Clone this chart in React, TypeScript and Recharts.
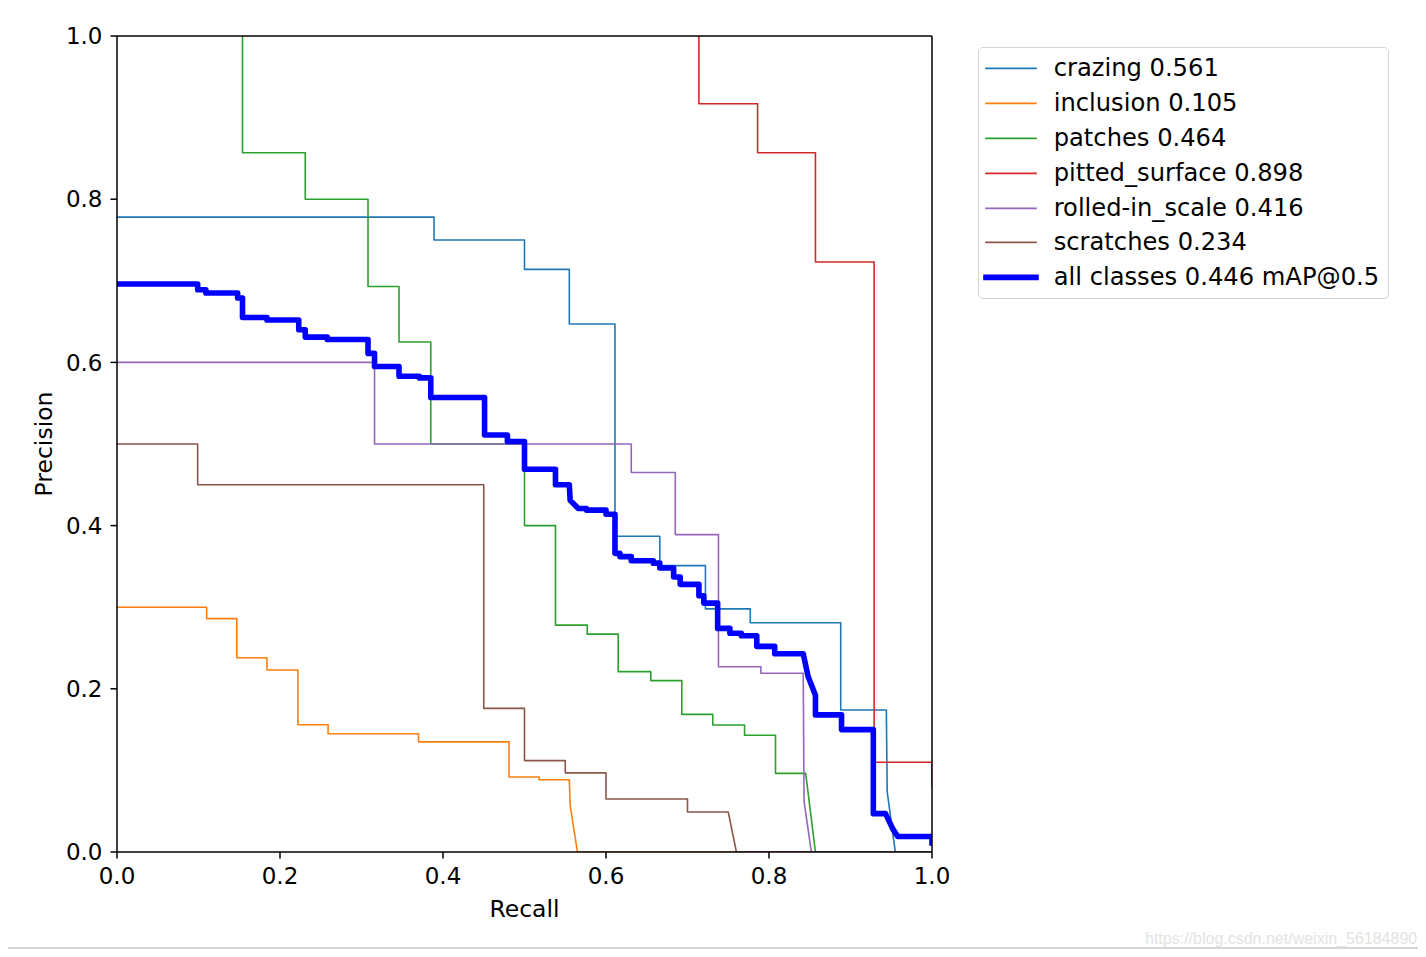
import React from 'react';
import { LineChart, Line, XAxis, YAxis, ReferenceLine, Legend } from 'recharts';

const FONT = '"DejaVu Sans", sans-serif';

// ---- data (recall / precision corner points of each PR step curve) ----
const crazingRecall = [0, 0.389, 0.389, 0.5, 0.5, 0.555, 0.555, 0.611, 0.611, 0.666, 0.666, 0.722, 0.722, 0.777, 0.777, 0.888, 0.888, 0.944, 0.945, 0.955, 1.0];
const crazingPrecision = [0.778, 0.778, 0.75, 0.75, 0.714, 0.714, 0.647, 0.647, 0.387, 0.387, 0.351, 0.351, 0.298, 0.298, 0.281, 0.281, 0.174, 0.174, 0.074, 0, 0];

const inclusionRecall = [0, 0.11, 0.11, 0.147, 0.147, 0.184, 0.184, 0.222, 0.222, 0.259, 0.259, 0.37, 0.37, 0.481, 0.481, 0.518, 0.518, 0.555, 0.556, 0.565, 1.0];
const inclusionPrecision = [0.3, 0.3, 0.286, 0.286, 0.238, 0.238, 0.223, 0.223, 0.156, 0.156, 0.145, 0.145, 0.135, 0.135, 0.092, 0.092, 0.0885, 0.0885, 0.057, 0, 0];

const patchesRecall = [0.154, 0.154, 0.231, 0.231, 0.308, 0.308, 0.346, 0.346, 0.385, 0.385, 0.5, 0.5, 0.538, 0.538, 0.577, 0.577, 0.615, 0.615, 0.655, 0.655, 0.693, 0.693, 0.731, 0.731, 0.77, 0.77, 0.808, 0.808, 0.845, 0.857, 1.0];
const patchesPrecision = [1.0, 0.857, 0.857, 0.8, 0.8, 0.693, 0.693, 0.625, 0.625, 0.5, 0.5, 0.4, 0.4, 0.278, 0.278, 0.267, 0.267, 0.221, 0.221, 0.21, 0.21, 0.1686, 0.1686, 0.1556, 0.1556, 0.143, 0.143, 0.0964, 0.0964, 0, 0];

const pittedRecall = [0.714, 0.714, 0.786, 0.786, 0.857, 0.857, 0.929, 0.929, 1.0, 1.0];
const pittedPrecision = [1.0, 0.917, 0.917, 0.857, 0.857, 0.723, 0.723, 0.11, 0.11, 0.08];

const rolledRecall = [0, 0.316, 0.316, 0.631, 0.631, 0.685, 0.685, 0.738, 0.738, 0.79, 0.79, 0.842, 0.843, 0.852, 1.0];
const rolledPrecision = [0.6, 0.6, 0.5, 0.5, 0.465, 0.465, 0.389, 0.389, 0.227, 0.227, 0.219, 0.219, 0.062, 0, 0];

const scratchesRecall = [0, 0.099, 0.099, 0.45, 0.45, 0.5, 0.5, 0.55, 0.55, 0.6, 0.6, 0.7, 0.7, 0.75, 0.76, 1.0];
const scratchesPrecision = [0.5, 0.5, 0.45, 0.45, 0.176, 0.176, 0.112, 0.112, 0.097, 0.097, 0.065, 0.065, 0.049, 0.049, 0, 0];

const allRecall = [0, 0.099, 0.099, 0.109, 0.109, 0.148, 0.148, 0.154, 0.154, 0.184, 0.184, 0.223, 0.223, 0.231, 0.231, 0.258, 0.258, 0.308, 0.308, 0.316, 0.316, 0.346, 0.346, 0.371, 0.371, 0.385, 0.385, 0.451, 0.451, 0.479, 0.479, 0.5, 0.5, 0.538, 0.538, 0.555, 0.556, 0.566, 0.576, 0.576, 0.6, 0.6, 0.611, 0.611, 0.617, 0.617, 0.631, 0.631, 0.658, 0.658, 0.666, 0.666, 0.683, 0.683, 0.691, 0.691, 0.714, 0.714, 0.72, 0.72, 0.737, 0.737, 0.752, 0.752, 0.766, 0.766, 0.785, 0.785, 0.807, 0.807, 0.842, 0.848, 0.857, 0.857, 0.889, 0.889, 0.928, 0.928, 0.943, 0.952, 0.958, 1.0, 1.0];
const allPrecision = [0.696, 0.696, 0.689, 0.689, 0.685, 0.685, 0.679, 0.679, 0.655, 0.655, 0.652, 0.652, 0.64, 0.64, 0.631, 0.631, 0.628, 0.628, 0.611, 0.611, 0.595, 0.595, 0.583, 0.583, 0.581, 0.581, 0.557, 0.557, 0.511, 0.511, 0.503, 0.503, 0.469, 0.469, 0.45, 0.45, 0.431, 0.421, 0.421, 0.419, 0.419, 0.414, 0.414, 0.366, 0.366, 0.362, 0.362, 0.357, 0.357, 0.354, 0.354, 0.348, 0.348, 0.337, 0.337, 0.328, 0.328, 0.314, 0.314, 0.305, 0.305, 0.274, 0.274, 0.268, 0.268, 0.265, 0.265, 0.252, 0.252, 0.243, 0.243, 0.215, 0.192, 0.168, 0.168, 0.15, 0.15, 0.047, 0.047, 0.028, 0.019, 0.019, 0.011];

const seriesNames = ['crazing 0.561', 'inclusion 0.105', 'patches 0.464', 'pitted_surface 0.898', 'rolled-in_scale 0.416', 'scratches 0.234', 'all classes 0.446 mAP@0.5'];
const xTicks = [0, 0.2, 0.4, 0.6, 0.8, 1.0];
const yTicks = [0, 0.2, 0.4, 0.6, 0.8, 1.0];

type Pt = { r: number; p: number };
const zip = (rs: number[], ps: number[]): Pt[] => rs.map((r, i) => ({ r, p: ps[i] }));

const THIN = 1.6;
const THICK = 5.6;

const SERIES = [
  { name: seriesNames[0], color: '#1f77b4', width: THIN, data: zip(crazingRecall, crazingPrecision) },
  { name: seriesNames[1], color: '#ff7f0e', width: THIN, data: zip(inclusionRecall, inclusionPrecision) },
  { name: seriesNames[2], color: '#2ca02c', width: THIN, data: zip(patchesRecall, patchesPrecision) },
  { name: seriesNames[3], color: '#d62728', width: THIN, data: zip(pittedRecall, pittedPrecision) },
  { name: seriesNames[4], color: '#9467bd', width: THIN, data: zip(rolledRecall, rolledPrecision) },
  { name: seriesNames[5], color: '#8c564b', width: THIN, data: zip(scratchesRecall, scratchesPrecision) },
  { name: seriesNames[6], color: '#0000ff', width: THICK, data: zip(allRecall, allPrecision) },
];

const ROW_H = 34.83;

const LegendBox = () => (
  <div
    style={{
      width: 411,
      height: 252,
      boxSizing: 'border-box',
      border: '1.3px solid #d4d4d4',
      borderRadius: 5,
      background: '#fff',
      paddingTop: 3,
      fontFamily: FONT,
      fontSize: 24.2,
      color: '#000',
    }}
  >
    {SERIES.map((s) => (
      <div key={s.name} style={{ height: ROW_H, position: 'relative' }}>
        <svg width={70} height={ROW_H} style={{ position: 'absolute', left: 0, top: 0 }}>
          <line x1={7} x2={57} y1={ROW_H / 2} y2={ROW_H / 2} stroke={s.color} strokeWidth={s.width} strokeLinecap="square" />
        </svg>
        <span style={{ position: 'absolute', left: 75, top: 0, height: ROW_H, lineHeight: `${ROW_H}px`, whiteSpace: 'nowrap' }}>
          {s.name}
        </span>
      </div>
    ))}
  </div>
);

const XTitle = (props: any) => {
  const vb = props.viewBox || { x: 0, y: 0, width: 0, height: 0 };
  return (
    <text x={vb.x + vb.width / 2} y={vb.y + 65} textAnchor="middle" fontFamily={FONT} fontSize={23.5} fill="#000">
      Recall
    </text>
  );
};

const YTitle = (props: any) => {
  const vb = props.viewBox || { x: 0, y: 0, width: 0, height: 0 };
  const cx = vb.x + 43.7;
  const cy = vb.y + vb.height / 2;
  return (
    <text x={cx} y={cy} transform={`rotate(-90, ${cx}, ${cy})`} textAnchor="middle" fontFamily={FONT} fontSize={23.5} fill="#000">
      Precision
    </text>
  );
};

export default function App() {
  const tickStyle = { fill: '#000', fontSize: 23, fontFamily: FONT };
  return (
    <div style={{ position: 'relative', width: 1410, height: 941 }}>
      <LineChart width={1410} height={930} margin={{ top: 28, right: 486, left: 0, bottom: 11 }}>
        <XAxis
          dataKey="r"
          type="number"
          domain={[0, 1]}
          ticks={xTicks}
          interval={0}
          tickFormatter={(v: number) => v.toFixed(1)}
          allowDataOverflow
          height={75}
          tickSize={6.5}
          tickMargin={9.5}
          tick={tickStyle}
          axisLine={{ stroke: '#000', strokeWidth: 1.5 }}
          tickLine={{ stroke: '#000', strokeWidth: 1.5 }}
          label={XTitle}
        />
        <YAxis
          dataKey="p"
          type="number"
          domain={[0, 1]}
          ticks={yTicks}
          interval={0}
          tickFormatter={(v: number) => v.toFixed(1)}
          allowDataOverflow
          width={109}
          tickSize={6.5}
          tickMargin={8}
          tick={tickStyle}
          axisLine={{ stroke: '#000', strokeWidth: 1.5 }}
          tickLine={{ stroke: '#000', strokeWidth: 1.5 }}
          label={YTitle}
        />
        {SERIES.map((s) => (
          <Line
            key={s.name}
            data={s.data}
            dataKey="p"
            name={s.name}
            type="linear"
            stroke={s.color}
            strokeWidth={s.width}
            strokeLinejoin="round"
            strokeLinecap="square"
            dot={false}
            activeDot={false}
            isAnimationActive={false}
          />
        ))}
        <ReferenceLine y={1} stroke="#000" strokeWidth={1.5} />
        <ReferenceLine x={1} stroke="#000" strokeWidth={1.5} />
        <Legend
          layout="vertical"
          align="center"
          verticalAlign="middle"
          content={LegendBox}
          wrapperStyle={{ left: 969.7, top: 39.3, width: 411, height: 252 }}
        />
      </LineChart>
      <div
        style={{
          position: 'absolute',
          left: 1137,
          top: 922,
          fontFamily: '"Liberation Sans", Arial, sans-serif',
          fontSize: 16,
          color: '#e3e3e3',
          whiteSpace: 'nowrap',
        }}
      >
        https://blog.csdn.net/weixin_56184890
      </div>
      <div style={{ position: 'absolute', left: -1, top: 939, width: 1418, height: 2, background: '#d6d6d6' }} />
    </div>
  );
}
